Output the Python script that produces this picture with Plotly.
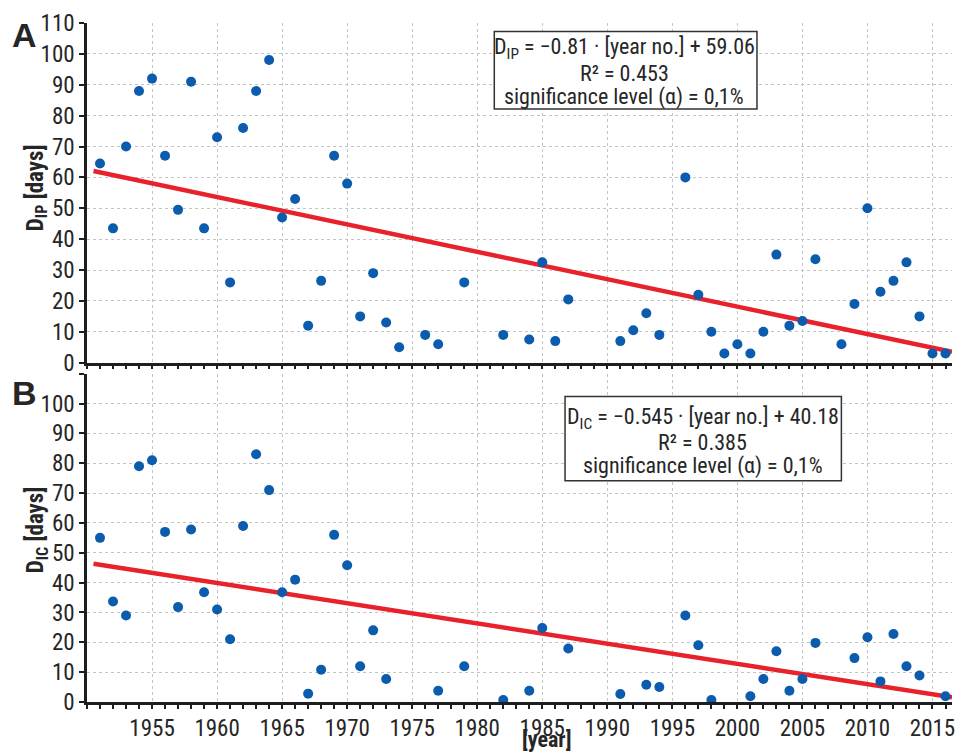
import plotly.graph_objects as go

# ---------------- data ----------------
years_A = [1951, 1952, 1953, 1954, 1955, 1956, 1957, 1958, 1959, 1960, 1961, 1962, 1963, 1964,
           1965, 1966, 1967, 1968, 1969, 1970, 1971, 1972, 1973, 1974, 1976, 1977, 1979, 1982,
           1984, 1985, 1986, 1987, 1991, 1992, 1993, 1994, 1996, 1997, 1998, 1999, 2000, 2001,
           2002, 2003, 2004, 2005, 2006, 2008, 2009, 2010, 2011, 2012, 2013, 2014, 2015, 2016]
values_A = [64.5, 43.5, 70, 88, 92, 67, 49.5, 91, 43.5, 73, 26, 76, 88, 98,
            47, 53, 12, 26.5, 67, 58, 15, 29, 13, 5, 9, 6, 26, 9,
            7.5, 32.5, 7, 20.5, 7, 10.5, 16, 9, 60, 22, 10, 3, 6, 3,
            10, 35, 12, 13.5, 33.5, 6, 19, 50, 23, 26.5, 32.5, 15, 3, 3]

years_B = [1951, 1952, 1953, 1954, 1955, 1956, 1957, 1958, 1959, 1960, 1961, 1962, 1963, 1964,
           1965, 1966, 1967, 1968, 1969, 1970, 1971, 1972, 1973, 1977, 1979, 1982, 1984, 1985,
           1987, 1991, 1993, 1994, 1996, 1997, 1998, 2001, 2002, 2003, 2004, 2005, 2006, 2009,
           2010, 2011, 2012, 2013, 2014, 2016]
values_B = [55, 33.7, 29, 79, 81, 57, 31.8, 57.8, 36.8, 31, 21, 59, 83, 71,
            36.8, 41, 2.8, 10.8, 56, 45.8, 12, 24, 7.7, 3.8, 12, 0.7, 3.8, 24.8,
            17.9, 2.7, 5.8, 5, 29, 19, 0.7, 1.9, 7.7, 17, 3.8, 7.7, 19.8, 14.7,
            21.7, 6.9, 22.8, 12, 8.9, 1.9]

# trend lines (end points)
trend_A_years = [1950.5, 2016.5]
trend_A_values = [62.1, 3.5]
trend_B_years = [1950.5, 2016.5]
trend_B_values = [46.3, 1.6]

y_ticks_A = list(range(0, 111, 10))
y_ticks_B = list(range(0, 111, 10))
y_ticktext_B = [str(v) for v in range(0, 101, 10)] + [""]
x_ticks = list(range(1955, 2016, 5))

box_A_lines = ["D<sub>IP</sub> = −0.81 · [year no.] + 59.06", "R² = 0.453",
               "significance level (α) = 0,1%"]
box_B_lines = ["D<sub>IC</sub> = −0.545 · [year no.] + 40.18", "R² = 0.385",
               "significance level (α) = 0,1%"]

# ---------------- style ----------------
FONT = "Liberation Sans Narrow, Arial Narrow, Roboto Condensed, Liberation Sans, Arial, sans-serif"
TXT = "#262626"
BLUE = "#0b5cad"
RED = "#e8222c"
GRID = "#c4c4c4"

fig = go.Figure()
for yrs, vals, ty, tv, xa, ya in [
    (years_A, values_A, trend_A_years, trend_A_values, "x", "y"),
    (years_B, values_B, trend_B_years, trend_B_values, "x2", "y2"),
]:
    fig.add_trace(go.Scatter(x=ty, y=tv, mode="lines", xaxis=xa, yaxis=ya,
                             line=dict(color=RED, width=4.5), showlegend=False,
                             hoverinfo="skip"))
    fig.add_trace(go.Scatter(x=yrs, y=vals, mode="markers", xaxis=xa, yaxis=ya,
                             marker=dict(color=BLUE, size=10), cliponaxis=False,
                             showlegend=False))

xcommon = dict(range=[1950, 2016.5], tickvals=x_ticks, showgrid=True, gridcolor=GRID,
               griddash="dot", gridwidth=1, showline=True, linecolor="#1e1e1e", linewidth=2.5,
               ticks="outside", ticklen=4, tickwidth=1.5, tickcolor="#1e1e1e",
               minor=dict(dtick=1, tick0=1950, ticks="outside", ticklen=4, tickwidth=1.5,
                          tickcolor="#1e1e1e", showgrid=False),
               zeroline=False, ticklabeloverflow="allow",
               tickfont=dict(family=FONT, size=23, color=TXT))
ycommon = dict(range=[0, 110], showgrid=True, gridcolor=GRID, griddash="dot", gridwidth=1,
               showline=True, linecolor="#1e1e1e", linewidth=2.5, ticks="outside",
               ticklen=5, tickwidth=1.5, tickcolor="#1e1e1e", zeroline=False,
               tickfont=dict(family=FONT, size=23, color=TXT))

fig.update_layout(
    width=955, height=755,
    margin=dict(l=87, r=0, t=23, b=53),
    paper_bgcolor="white", plot_bgcolor="white",
    xaxis=dict(**xcommon, anchor="y", showticklabels=False, matches="x2"),
    yaxis=dict(**ycommon, anchor="x", domain=[0.4997, 1.0], tickvals=y_ticks_A),
    xaxis2=dict(**xcommon, anchor="y2"),
    yaxis2=dict(**ycommon, anchor="x2", domain=[0.0, 0.4835], tickvals=y_ticks_B,
                ticktext=y_ticktext_B),
    font=dict(family=FONT, color=TXT),
)

ann = []
# axis titles
ann.append(dict(text="<b>D<sub>IP</sub> [days]</b>", xref="paper", yref="paper", x=-0.058, y=0.758,
                textangle=-90, showarrow=False, font=dict(family=FONT, size=23, color=TXT),
                xanchor="center", yanchor="middle"))
ann.append(dict(text="<b>D<sub>IC</sub> [days]</b>", xref="paper", yref="paper", x=-0.058, y=0.254,
                textangle=-90, showarrow=False, font=dict(family=FONT, size=23, color=TXT),
                xanchor="center", yanchor="middle"))
ann.append(dict(text="<b>[year]</b>", xref="paper", yref="paper", x=0.531, y=-0.0555,
                showarrow=False, font=dict(family=FONT, size=22, color=TXT),
                xanchor="center", yanchor="middle"))
# panel letters
ann.append(dict(text="<b>A</b>", xref="paper", yref="paper", x=-0.0726, y=0.983,
                showarrow=False, font=dict(family="Liberation Sans, Arial, sans-serif", size=34, color=TXT),
                xanchor="center", yanchor="middle"))
ann.append(dict(text="<b>B</b>", xref="paper", yref="paper", x=-0.0726, y=0.455,
                showarrow=False, font=dict(family="Liberation Sans, Arial, sans-serif", size=34, color=TXT),
                xanchor="center", yanchor="middle"))

# regression boxes
H = 679.0
W = 868.0
def px_to_paper(px, py):
    return (px - 87) / W, (702.3 - py) / H

for lines, (bx0, by0, bx1, by1), cx, ys in [
    (box_A_lines, (495.7, 31.7, 759.3, 109.3), 626, [49, 74, 97.5]),
    (box_B_lines, (566.7, 396.7, 844.0, 481.0), 705, [419, 443, 466.5]),
]:
    x0, y1 = px_to_paper(bx0, by0)
    x1, y0 = px_to_paper(bx1, by1)
    fig.add_shape(type="rect", xref="paper", yref="paper", x0=x0, x1=x1, y0=y0, y1=y1,
                  line=dict(color="#333333", width=1.5), fillcolor="white", layer="above")
    for t, yy in zip(lines, ys):
        px_, py_ = px_to_paper(cx, yy)
        ann.append(dict(text=t, xref="paper", yref="paper", x=px_, y=py_, showarrow=False,
                        xanchor="center", yanchor="middle",
                        font=dict(family=FONT, size=22, color=TXT)))

fig.update_layout(annotations=ann)
fig.write_html("out.html")
